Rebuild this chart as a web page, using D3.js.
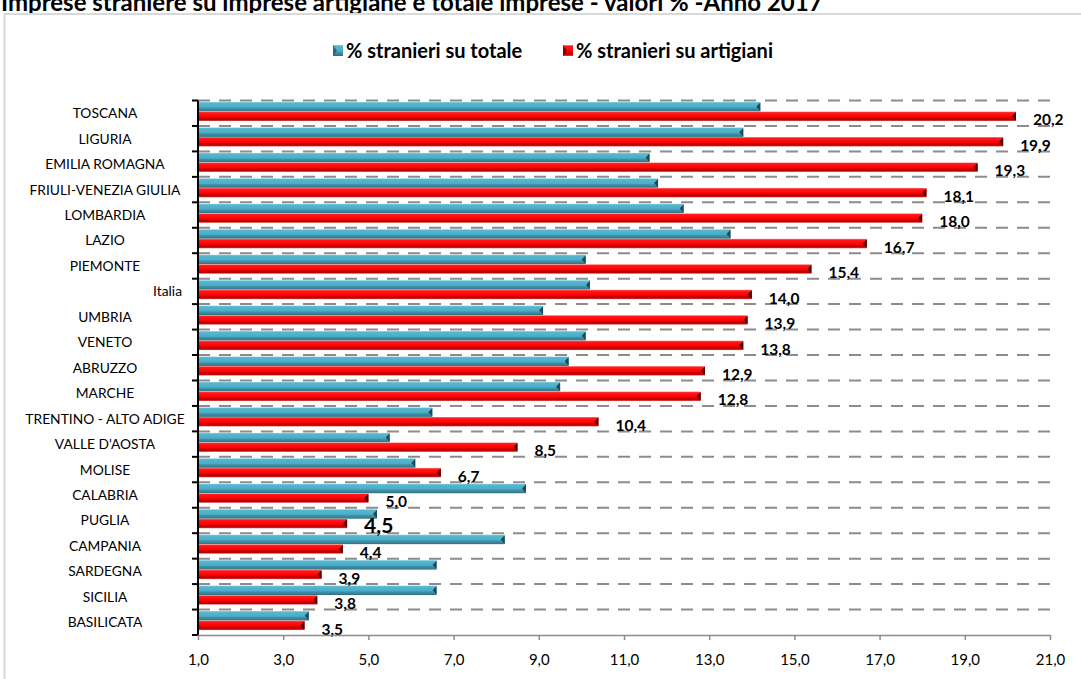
<!DOCTYPE html>
<html>
<head>
<meta charset="utf-8">
<script src="https://cdn.jsdelivr.net/npm/d3@7"></script>
<style>
html,body{margin:0;padding:0;background:#fff;}
svg{display:block;}
text{font-family:Lato,"Open Sans",sans-serif;}
</style>
</head>
<body>
<svg id="chart" width="1081" height="679"></svg>
<script>
const categories = ["TOSCANA","LIGURIA","EMILIA ROMAGNA","FRIULI-VENEZIA GIULIA","LOMBARDIA","LAZIO","PIEMONTE","Italia","UMBRIA","VENETO","ABRUZZO","MARCHE","TRENTINO - ALTO ADIGE","VALLE D'AOSTA","MOLISE","CALABRIA","PUGLIA","CAMPANIA","SARDEGNA","SICILIA","BASILICATA"];
const seriesNames = ["% stranieri su totale","% stranieri su artigiani"];
const totale = [14.2,13.8,11.6,11.8,12.4,13.5,10.1,10.2,9.1,10.1,9.7,9.5,6.5,5.5,6.1,8.7,5.2,8.2,6.6,6.6,3.6];
const artigiani = [20.2,19.9,19.3,18.1,18.0,16.7,15.4,14.0,13.9,13.8,12.9,12.8,10.4,8.5,6.7,5.0,4.5,4.4,3.9,3.8,3.5];
const xTicks = [1,3,5,7,9,11,13,15,17,19,21];
const title = "Imprese straniere su imprese artigiane e totale imprese - valori % -Anno 2017";

(function(){
const svg = d3.select("#chart");
const fmt = v => d3.format(".1f")(v).replace(".", ",");

const pLeft = 198, pRight = 1050, pTop = 100.5, pBottom = 635;
const x = d3.scaleLinear().domain([1, 21]).range([pLeft, pRight]);
const y = d3.scaleBand().domain(categories).range([pTop, pBottom]).padding(0);
const bw = y.bandwidth();

const defs = svg.append("defs");
function grad(id, stops){
  const g = defs.append("linearGradient").attr("id", id).attr("x1",0).attr("y1",0).attr("x2",0).attr("y2",1);
  stops.forEach(s => g.append("stop").attr("offset", s[0]).attr("stop-color", s[1]));
}
grad("gBlue", [["0%","#8fd3e4"],["12%","#55b6cf"],["55%","#4badc7"],["66%","#3f93a9"],["88%","#377f92"],["100%","#2d6c7c"]]);
grad("gRed", [["0%","#ff8a8a"],["12%","#ff1a1a"],["58%","#ff0000"],["68%","#d00000"],["88%","#b80000"],["100%","#e05050"]]);

svg.append("text").attr("x", 1).attr("y", 11)
  .attr("font-size", 24).attr("font-weight", "bold").attr("fill", "#000")
  .text(title);

svg.append("rect").attr("x", 4.5).attr("y", 14).attr("width", 1090).attr("height", 700)
  .attr("fill", "none").attr("stroke", "#d9d9d9").attr("stroke-width", 2);

const legend = svg.append("g");
const legItems = [{name: seriesNames[0], fill: "url(#gBlue)", cap: "#1f4f5c", x: 333},
                  {name: seriesNames[1], fill: "url(#gRed)", cap: "#5a0000", x: 563}];
legItems.forEach(it => {
  legend.append("rect").attr("x", it.x).attr("y", 45).attr("width", 10).attr("height", 11).attr("fill", it.fill);
  legend.append("polygon").attr("points", `${it.x},45 ${it.x+4},50.5 ${it.x},56`).attr("fill", it.cap).attr("opacity", 0.7);
  legend.append("text").attr("x", it.x + 13).attr("y", 57.5)
    .attr("font-size", 20).attr("font-weight", "bold").attr("fill", "#000").text(it.name);
});

const gridYs = categories.map(c => y(c));
svg.append("g").selectAll("line").data(gridYs).join("line")
  .attr("x1", pLeft).attr("x2", pRight).attr("y1", d => d).attr("y2", d => d)
  .attr("stroke", "#8c8c8c").attr("stroke-width", 2).attr("stroke-dasharray", "12,9");

const rows = categories.map((c, i) => ({c, t: totale[i], a: artigiani[i]}));
const bars = svg.append("g");
const bH = bw * 0.37;
function drawBar(sel, val, yOff, fill, capCol){
  sel.append("rect")
    .attr("x", x(1)).attr("y", d => y(d.c) + yOff)
    .attr("width", d => x(val(d)) - x(1)).attr("height", bH)
    .attr("fill", fill);
  sel.append("polygon")
    .attr("points", d => {
      const xe = x(val(d)), y0 = y(d.c) + yOff;
      return `${xe},${y0+0.5} ${xe-4},${y0+bH/2} ${xe},${y0+bH-0.5}`;
    })
    .attr("fill", capCol);
}
const rowG = bars.selectAll("g").data(rows).join("g");
drawBar(rowG, d => d.t, bw * 0.06, "url(#gBlue)", "#1c4a56");
drawBar(rowG, d => d.a, bw * 0.435, "url(#gRed)", "#4a0000");

svg.append("g").selectAll("text").data(rows).join("text")
  .attr("x", d => x(d.a) + 17)
  .attr("y", d => y(d.c) + bw - 0.5)
  .attr("font-size", d => d.c === "PUGLIA" ? 21 : 15.5)
  .attr("font-weight", "bold").attr("fill", "#000")
  .text(d => fmt(d.a));

const yAxis = svg.append("g");
yAxis.append("line").attr("x1", pLeft).attr("x2", pLeft).attr("y1", pTop).attr("y2", pBottom)
  .attr("stroke", "#000").attr("stroke-width", 2);
yAxis.selectAll("line.t").data(gridYs.concat([pBottom])).join("line").attr("class", "t")
  .attr("x1", pLeft - 6).attr("x2", pLeft).attr("y1", d => d).attr("y2", d => d)
  .attr("stroke", "#000").attr("stroke-width", 2);
yAxis.selectAll("text").data(categories).join("text")
  .attr("x", d => d === "Italia" ? 182 : 105)
  .attr("y", d => y(d) + bw / 2 + 5)
  .attr("text-anchor", d => d === "Italia" ? "end" : "middle")
  .attr("font-size", 13.8).attr("fill", "#000")
  .text(d => d);

const xAxis = svg.append("g").attr("transform", `translate(0,${pBottom})`)
  .call(d3.axisBottom(x).tickValues(xTicks).tickFormat(fmt).tickSize(5).tickSizeOuter(0));
xAxis.select(".domain").attr("stroke", "#8c8c8c").attr("stroke-width", 1.5);
xAxis.selectAll(".tick line").attr("stroke", "#8c8c8c").attr("stroke-width", 1.5);
xAxis.selectAll(".tick text").attr("font-size", 15).attr("fill", "#000")
  .attr("font-family", "Lato, sans-serif").attr("y", 19).attr("dy", "0.71em");
})();
</script>
</body>
</html>
